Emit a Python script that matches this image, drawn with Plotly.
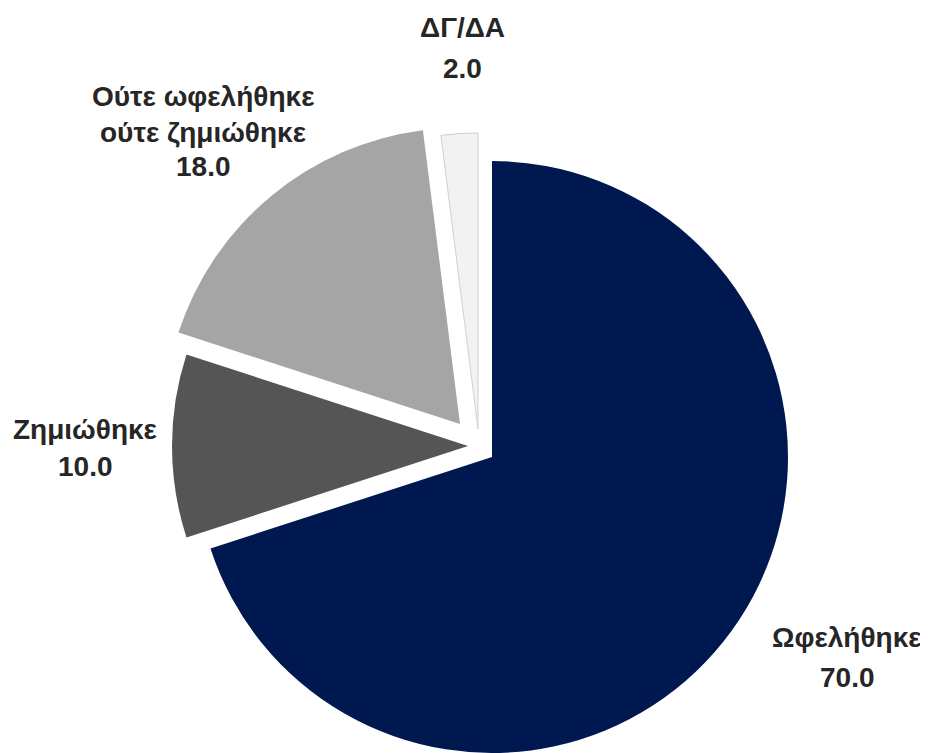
import math
import plotly.graph_objects as go

# ---- data ----
categories = ["Ωφελήθηκε", "Ζημιώθηκε", "Ούτε ωφελήθηκε<br>ούτε ζημιώθηκε", "ΔΓ/ΔΑ"]
values = [70.0, 10.0, 18.0, 2.0]
colors = ["#001850", "#555555", "#A5A5A5", "#F2F2F2"]

# ---- layout / styling (page-pixel geometry of the exploded slices) ----
OFF = 8                      # default page body margin
W, H = 928 - OFF, 753 - OFF  # figure size so it fits the window
R = 296
slice_centers = [(492, 457), (468, 446), (460, 424), (478, 429)]
label_pos = [  # (center x, first baseline y, line step) in page pixels
    (847, 647, 40),
    (85, 439, 37),
    (203, 107, 35),
    (462, 38, 41),
]
FONT = "Liberation Sans, Arial, sans-serif"
FS = 28

fig = go.Figure()
for i, (cx, cy) in enumerate(slice_centers):
    cx, cy = cx - OFF, cy - OFF
    x0 = max(0.0, (cx - R) / W)
    x1 = min(1.0, (cx + R) / W)
    y0 = max(0.0, (H - cy - R) / H)
    y1 = min(1.0, (H - cy + R) / H)
    cols = [colors[j] if j == i else "rgba(0,0,0,0)" for j in range(len(values))]
    lw = [1 if (j == i and j == 3) else 0 for j in range(len(values))]
    fig.add_trace(go.Pie(
        labels=[c.replace("<br>", " ") for c in categories],
        values=values,
        sort=False,
        direction="clockwise",
        rotation=0,
        marker=dict(colors=cols, line=dict(color="#D0D0D0", width=lw)),
        textinfo="none",
        hoverinfo="label+value",
        showlegend=False,
        domain=dict(x=[x0, x1], y=[y0, y1]),
    ))

annotations = []
for i, cat in enumerate(categories):
    lines = cat.split("<br>") + [f"{values[i]:.1f}"]
    lx, base, step = label_pos[i]
    for k, line in enumerate(lines):
        yb = base + k * step - 10 - OFF
        annotations.append(dict(
            x=(lx - OFF) / W, y=1 - yb / H, xref="paper", yref="paper",
            text=line, showarrow=False, xanchor="center", yanchor="middle",
            font=dict(family=FONT, size=FS, color="#262626", weight="bold"),
        ))

fig.update_layout(
    width=W, height=H,
    margin=dict(l=0, r=0, t=0, b=0),
    paper_bgcolor="white", plot_bgcolor="white",
    annotations=annotations,
)
fig.write_html("out.html")
